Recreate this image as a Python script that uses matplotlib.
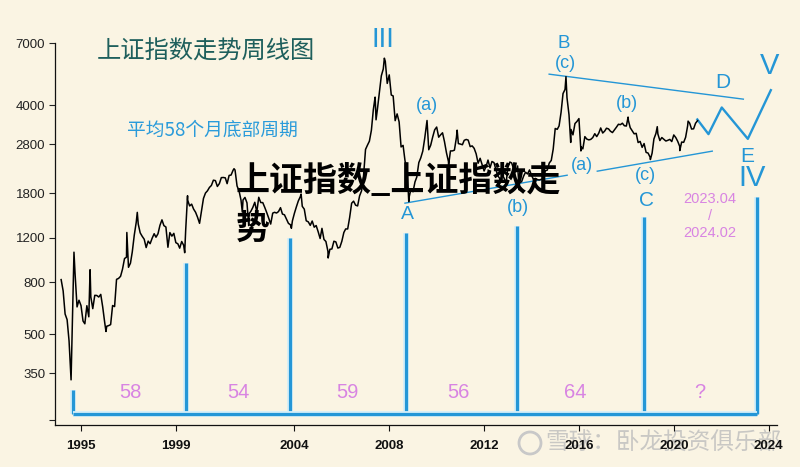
import numpy as np
import pandas as pd
import matplotlib
matplotlib.use("Agg")
import matplotlib.pyplot as plt
import matplotlib.patheffects as pe
from matplotlib.patches import Ellipse
from matplotlib.ticker import NullLocator

# ---------------- data ----------------
# Shanghai Composite, month-end closes, Feb 1994 .. Dec 2020
close_1994 = [820, 740, 600, 570, 470, 330, 750, 870, 640, 680, 648]
close_1995 = [563, 549, 647, 585, 701, 630, 711, 710, 700, 717, 640, 555]
close_1996 = [537, 540, 545, 648, 642, 822, 829, 845, 902, 993, 1005, 917]
close_1997 = [952, 1054, 1229, 1380, 1358, 1254, 1215, 1183, 1097, 1163, 1136, 1194]
close_1998 = [1244, 1205, 1244, 1342, 1411, 1339, 1322, 1100, 1257, 1217, 1248, 1147]
close_1999 = [1135, 1091, 1159, 1120, 1280, 1689, 1601, 1627, 1556, 1511, 1445, 1367]
close_2000 = [1535, 1714, 1800, 1836, 1894, 1928, 2023, 2015, 1911, 1961, 2070, 2073]
close_2001 = [2066, 1960, 2112, 2119, 2214, 2218, 1920, 1835, 1688, 1690, 1730, 1646]
close_2002 = [1491, 1524, 1580, 1655, 1515, 1732, 1651, 1650, 1581, 1507, 1434, 1358]
close_2003 = [1500, 1511, 1501, 1521, 1576, 1487, 1477, 1421, 1367, 1349, 1397, 1497]
close_2004 = [1590, 1675, 1742, 1595, 1555, 1399, 1386, 1342, 1396, 1320, 1340, 1266]
close_2005 = [1191, 1306, 1181, 1159, 1060, 1080, 1083, 1162, 1155, 1092, 1099, 1161]
close_2006 = [1258, 1299, 1299, 1440, 1641, 1672, 1612, 1601, 1753, 1837, 2099, 2675]
close_2007 = [2786, 2881, 3183, 3841, 4109, 3820, 4471, 5218, 5552, 5954, 4871, 5262]
close_2008 = [4383, 4348, 3473, 3693, 3433, 2736, 2775, 2397, 2293, 1729, 1871, 1821]
close_2009 = [1991, 2082, 2373, 2477, 2633, 2959, 3412, 2667, 2779, 2996, 3195, 3277]
close_2010 = [2989, 3051, 3110, 2871, 2592, 2398, 2638, 2639, 2656, 2979, 2820, 2808]
close_2011 = [2791, 2905, 2928, 2911, 2743, 2762, 2701, 2568, 2359, 2468, 2333, 2199]
close_2012 = [2292, 2428, 2263, 2397, 2373, 2225, 2103, 2047, 2086, 2069, 1980, 2269]
close_2013 = [2385, 2366, 2237, 2178, 2301, 1979, 1994, 2098, 2175, 2141, 2220, 2116]
close_2014 = [2033, 2056, 2033, 2026, 2039, 2048, 2202, 2217, 2364, 2420, 2683, 3235]
close_2015 = [3210, 3310, 3748, 4442, 4612, 4277, 3664, 3206, 3053, 3383, 3446, 3539]
close_2016 = [2738, 2688, 3004, 2938, 2917, 2930, 2979, 3085, 3005, 3100, 3250, 3104]
close_2017 = [3159, 3242, 3223, 3155, 3117, 3192, 3273, 3361, 3349, 3393, 3317, 3307]
close_2018 = [3481, 3259, 3169, 3082, 3095, 2847, 2876, 2725, 2821, 2603, 2588, 2494]
close_2019 = [2585, 2941, 3091, 3078, 2899, 2979, 2933, 2886, 2905, 2929, 2872, 3050]
close_2020 = [2977, 2880, 2750, 2860, 2852, 2985, 3310, 3396, 3218, 3225, 3392, 3473]

# intra-month highs / lows (decimal year, index level)
extreme_dates = [1994.70, 1995.38, 1996.05, 1996.93, 1997.37, 1999.37, 1999.49,
                 2001.45, 2001.80, 2002.07, 2003.87, 2004.28, 2005.42, 2007.40,
                 2007.44, 2007.79, 2008.82, 2009.59, 2010.50, 2010.86, 2012.92,
                 2013.48, 2015.45, 2015.65, 2016.08, 2018.07, 2019.01, 2019.30,
                 2020.25, 2020.60]
extreme_values = [1052, 897, 512, 1258, 1510, 1047, 1756,
                  2245, 1514, 1339, 1307, 1783, 998, 4300,
                  3500, 6124, 1664, 3478, 2319, 3186, 1949,
                  1849, 5178, 2850, 2638, 3587, 2440, 3288,
                  2646, 3458]

# cycle bottoms (decimal year) and the month counts between them
cycle_bottoms = [1994.66, 1999.43, 2003.82, 2008.71, 2013.39, 2018.75, 2023.52]
cycle_bar_tops = [302, 950, 1192, 1247, 1332, 1444, 1735]
cycle_base = 241
cycle_labels = ["58", "54", "59", "56", "64", "?"]

# trend lines of the triangle and projected zig-zag (year, level)
upper_trend_years = [2014.74, 2022.93]
upper_trend_values = [5297, 4222]
lower_trend1_years = [2008.66, 2015.50]
lower_trend1_values = [1642, 2116]
lower_trend2_years = [2016.77, 2021.62]
lower_trend2_values = [2195, 2633]
zigzag_years = [2020.99, 2021.46, 2022.02, 2023.12, 2024.09]
zigzag_values = [3511, 3073, 3914, 2944, 4581]

y_ticks = [350, 500, 800, 1200, 1800, 2800, 4000, 7000]
x_ticks = [1995, 1999, 2004, 2008, 2012, 2016, 2020, 2024]

# ---------------- build series ----------------
monthly = (close_1994 + close_1995 + close_1996 + close_1997 + close_1998 + close_1999 +
           close_2000 + close_2001 + close_2002 + close_2003 + close_2004 + close_2005 +
           close_2006 + close_2007 + close_2008 + close_2009 + close_2010 + close_2011 +
           close_2012 + close_2013 + close_2014 + close_2015 + close_2016 + close_2017 +
           close_2018 + close_2019 + close_2020)
idx = pd.date_range("1994-02-28", periods=len(monthly), freq="ME")
mdates = idx.year + (idx.dayofyear - 1) / 365.25
s = pd.Series(list(monthly) + extreme_values,
              index=list(mdates) + extreme_dates).sort_index()

# ---------------- style ----------------
BG = "#FAF4E3"
BLUE = "#2496D6"
VIOLET = "#D884E2"
TITLE = "#1E5F5C"
CJK = ["Noto Sans CJK SC", "DejaVu Sans"]
plt.rcParams["font.family"] = ["Liberation Sans", "DejaVu Sans"]

W, H = 800, 467
fig = plt.figure(figsize=(W / 100, H / 100), dpi=100, facecolor=BG)
ax = fig.add_axes([55 / W, 42 / H, 722 / W, 382 / H])
ax.set_facecolor(BG)


def fx(x):
    return x / W


def fy(y):
    return 1 - y / H


ax.plot(s.index, s.values, color="black", lw=1.1, zorder=3)

halo = [pe.Stroke(linewidth=4.2, foreground="#D4EEF8"), pe.Normal()]
for yr, top in zip(cycle_bottoms, cycle_bar_tops):
    ax.plot([yr, yr], [cycle_base, top], color=BLUE, lw=2.3,
            solid_capstyle="butt", path_effects=halo, zorder=2)
ax.plot([cycle_bottoms[0], cycle_bottoms[-1]], [cycle_base, cycle_base],
        color=BLUE, lw=2.3, solid_capstyle="butt", path_effects=halo, zorder=2)

ax.plot(upper_trend_years, upper_trend_values, color=BLUE, lw=1.0, zorder=2)
ax.plot(lower_trend1_years, lower_trend1_values, color=BLUE, lw=1.0, zorder=2)
ax.plot(lower_trend2_years, lower_trend2_values, color=BLUE, lw=1.0, zorder=2)
ax.plot(zigzag_years, zigzag_values, color=BLUE, lw=1.7, clip_on=False, zorder=2)

ax.set_yscale("log")
ax.set_ylim(219, 7030)
ax.set_xlim(1993.90, 2024.35)
ax.set_yticks(y_ticks + [229])
ax.set_yticklabels([str(v) for v in y_ticks] + [""])
ax.yaxis.set_minor_locator(NullLocator())
ax.set_xticks(x_ticks)
ax.set_xticklabels([str(v) for v in x_ticks], fontweight="bold")
ax.tick_params(axis="y", length=4, width=0.8, pad=3, labelsize=9.5, colors="#222222")
ax.tick_params(axis="x", length=4, width=0.8, pad=7, labelsize=9.5, colors="#111111")
for side in ["top", "right"]:
    ax.spines[side].set_visible(False)
for side in ["left", "bottom"]:
    ax.spines[side].set_linewidth(0.9)
    ax.spines[side].set_color("#111111")

# ---------------- texts ----------------
fig.text(fx(97), fy(52), "上证指数走势周线图", fontsize=17.5, color=TITLE,
         fontweight="medium", ha="left", va="center", family=CJK)
fig.text(fx(127), fy(130), "平均58个月底部周期", fontsize=13.5, color="#2A9BDA",
         ha="left", va="center", family=CJK)

wave_labels = [
    ("III", 383, 40, 20), ("(a)", 427, 106, 13), ("A", 407, 215, 14),
    ("(b)", 518, 207, 13), ("B", 564, 44, 13.5), ("(c)", 565, 63, 13),
    ("(b)", 627, 103, 13), ("(a)", 582, 165, 13), ("(c)", 645, 175, 13),
    ("C", 646, 201, 15), ("D", 723, 83, 15), ("E", 747, 156, 15),
    ("IV", 752, 178, 21), ("V", 770, 66, 21),
]
for txt, x, y, fs in wave_labels:
    fig.text(fx(x), fy(y), txt, fontsize=fs, color=BLUE, ha="center", va="center")

for txt, x in zip(cycle_labels, [130, 238, 347, 458, 575, 700]):
    fig.text(fx(x), fy(393), txt, fontsize=14.5, color=VIOLET, ha="center", va="center")

fig.text(fx(710), fy(199), "2023.04", fontsize=10.5, color=VIOLET, ha="center", va="center")
fig.text(fx(710), fy(216), "/", fontsize=10.5, color=VIOLET, ha="center", va="center")
fig.text(fx(710), fy(233), "2024.02", fontsize=10.5, color=VIOLET, ha="center", va="center")

# overlay headline
fig.text(fx(236), fy(180), "上证指数_上证指数走", fontsize=24.5, color="black",
         fontweight="heavy", ha="left", va="center", family=CJK, zorder=10)
fig.text(fx(236), fy(228), "势", fontsize=24.5, color="black",
         fontweight="heavy", ha="left", va="center", family=CJK, zorder=10)

# watermark
fig.text(fx(545), fy(443), "雪球：卧龙投资俱乐部", fontsize=17, color="#BDBDBD",
         alpha=0.8, ha="left", va="center", family=CJK, zorder=-1)
fig.add_artist(Ellipse((fx(530), fy(443)), 22 / W, 22 / H, fill=False,
                       edgecolor="#C8C8C8", lw=2, transform=fig.transFigure, zorder=-1))

fig.savefig("out.png", dpi=100, facecolor=BG)
